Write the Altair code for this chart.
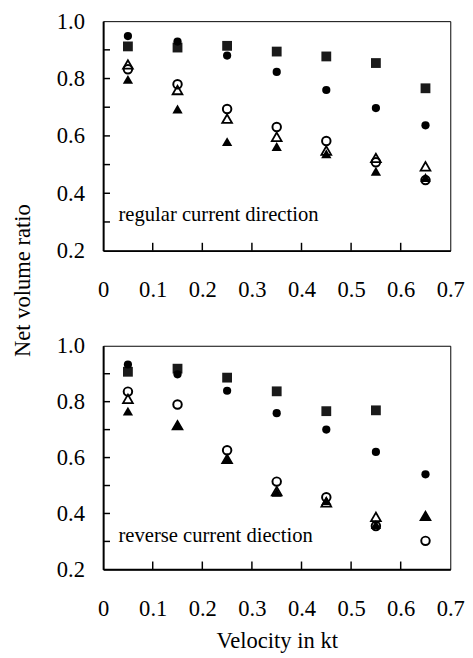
import altair as alt
import pandas as pd

velocity = [0.05, 0.15, 0.25, 0.35, 0.45, 0.55, 0.65]

# regular current direction
reg_square = [0.912, 0.908, 0.914, 0.894, 0.877, 0.854, 0.766]
reg_fcircle = [0.948, 0.929, 0.880, 0.823, 0.760, 0.697, 0.637]
reg_ocircle = [0.832, 0.780, 0.694, 0.631, 0.582, 0.508, 0.446]
reg_otri = [0.849, 0.760, 0.660, 0.597, 0.549, 0.523, 0.494]
reg_ftri = [0.797, 0.694, 0.580, 0.563, 0.538, 0.477, 0.455]

# reverse current direction
rev_square = [0.907, 0.918, 0.886, 0.837, 0.766, 0.769, None]
rev_fcircle = [0.933, 0.898, 0.839, 0.759, 0.700, 0.620, 0.540]
rev_ocircle = [0.836, 0.790, 0.626, 0.514, 0.458, 0.355, 0.302]
rev_otri = [0.810, 0.716, 0.595, 0.480, 0.440, 0.388, 0.391]
rev_ftri = [0.766, 0.716, 0.593, 0.476, 0.446, 0.360, 0.391]

x_tick_labels = [0, 0.1, 0.2, 0.3, 0.4, 0.5, 0.6, 0.7]
y_tick_labels = [0.2, 0.4, 0.6, 0.8, 1.0]
x_minor = [0.1, 0.2, 0.3, 0.4, 0.5, 0.6]
y_minor = [0.3, 0.4, 0.5, 0.6, 0.7, 0.8, 0.9]

annot_regular = "regular current direction"
annot_reverse = "reverse current diection"
annot_x = 0.031
annot_y_regular = 0.304
annot_y_reverse = 0.297

FONT = "Liberation Serif"

series_style = {
    "square": dict(shape="square", filled=True, size=100, color="#1a1a1a"),
    "fcircle": dict(shape="circle", filled=True, size=70, color="black"),
    "ocircle": dict(shape="circle", filled=False, size=75, color="black", strokeWidth=2),
    "otri": dict(shape="triangle-up", filled=False, size=100, color="black", strokeWidth=1.8),
    "ftri": dict(shape="triangle-up", filled=True, size=110, color="black"),
}


def long_df(sq, fc, oc, ot, ft):
    rows = []
    for name, vals in [("square", sq), ("fcircle", fc), ("ocircle", oc), ("otri", ot), ("ftri", ft)]:
        for v, r in zip(velocity, vals):
            if r is not None:
                rows.append({"v": v, "r": r, "s": name})
    return pd.DataFrame(rows)


def panel(df, h, annot, annot_y, x_title, y_title):
    xscale = alt.Scale(domain=[0, 0.7], nice=False, zero=False)
    yscale = alt.Scale(domain=[0.2, 1.0], nice=False, zero=False)
    xaxis_kw = dict(values=x_tick_labels,
                    labelExpr="datum.value == 0 ? '0' : format(datum.value, '.1f')",
                    ticks=False, tickSize=0, grid=False, labelPadding=29,
                    labelFlush=False, labelOverlap=False)
    if x_title:
        xaxis_kw.update(title="Velocity in kt", titlePadding=10)
    else:
        xaxis_kw.update(title="")
    yaxis_kw = dict(values=y_tick_labels, format=".1f", ticks=False, tickSize=0,
                    grid=False, labelPadding=19, labelFlush=False, labelOverlap=False)
    if y_title:
        yaxis_kw.update(title="Net volume ratio", titleX=-82, titleY=264,
                        titleAngle=270, titleBaseline="middle", titleAlign="center")
    else:
        yaxis_kw.update(title="")

    layers = []
    first = True
    for name, st in series_style.items():
        mk = alt.Chart(df).transform_filter(alt.datum.s == name).mark_point(
            shape=st["shape"], filled=st["filled"], size=st["size"], color=st["color"],
            strokeWidth=st.get("strokeWidth", 1), opacity=1)
        if first:
            enc = mk.encode(x=alt.X("v:Q", scale=xscale, axis=alt.Axis(**xaxis_kw)),
                            y=alt.Y("r:Q", scale=yscale, axis=alt.Axis(**yaxis_kw)))
            first = False
        else:
            enc = mk.encode(x=alt.X("v:Q", scale=xscale),
                            y=alt.Y("r:Q", scale=yscale))
        layers.append(enc)

    xt = alt.Chart(pd.DataFrame({"t": x_minor})).mark_rule(color="black", strokeWidth=1.5).encode(
        x=alt.X("t:Q", scale=xscale),
        y=alt.value(h), y2=alt.value(h - 8))
    yt = alt.Chart(pd.DataFrame({"t": y_minor})).mark_rule(color="black", strokeWidth=1.5).encode(
        y=alt.Y("t:Q", scale=yscale),
        x=alt.value(0), x2=alt.value(7))
    txt = alt.Chart(pd.DataFrame({"x": [annot_x], "y": [annot_y], "label": [annot]})).mark_text(
        align="left", baseline="alphabetic", font=FONT, fontSize=21, color="black").encode(
        x=alt.X("x:Q", scale=xscale),
        y=alt.Y("y:Q", scale=yscale),
        text="label:N")
    return alt.layer(*layers, xt, yt, txt).properties(width=354, height=h)


top = panel(long_df(reg_square, reg_fcircle, reg_ocircle, reg_otri, reg_ftri),
            234, annot_regular, annot_y_regular, x_title=False, y_title=True)
bottom = panel(long_df(rev_square, rev_fcircle, rev_ocircle, rev_otri, rev_ftri),
               228, annot_reverse, annot_y_reverse, x_title=True, y_title=False)

chart = alt.VConcatChart(vconcat=[top, bottom], spacing=97, bounds="flush").properties(
    padding={"left": 3, "top": -5, "right": 0, "bottom": 0},
    background="white"
).configure_view(stroke="black", strokeWidth=1).configure_axis(
    domainColor="black", domainWidth=2, labelFont=FONT, labelFontSize=23,
    labelColor="black", titleFont=FONT, titleFontSize=23, titleFontWeight="normal",
    titleColor="black", grid=False
)

chart.save("out.html", embed_options={"renderer": "svg", "actions": False})
